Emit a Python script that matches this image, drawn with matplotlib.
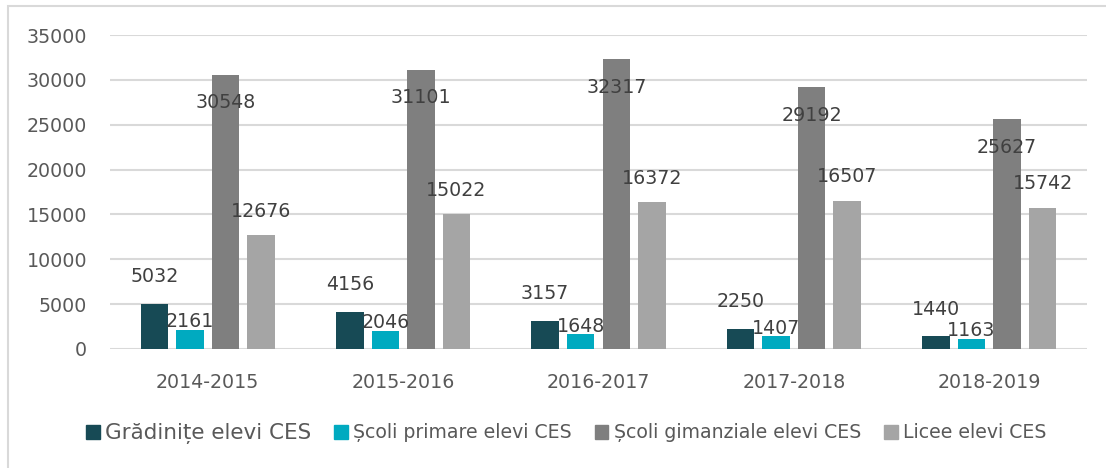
import matplotlib
matplotlib.use("Agg")
import matplotlib.pyplot as plt
from matplotlib.patches import Rectangle, Patch
import numpy as np

years = ["2014-2015", "2015-2016", "2016-2017", "2017-2018", "2018-2019"]
gradinite = [5032, 4156, 3157, 2250, 1440]
primare = [2161, 2046, 1648, 1407, 1163]
gimnaziale = [30548, 31101, 32317, 29192, 25627]
licee = [12676, 15022, 16372, 16507, 15742]

series_names = ["Grădinițe elevi CES", "Școli primare elevi CES",
                "Școli gimanziale elevi CES", "Licee elevi CES"]
colors = ["#174A55", "#00AAC0", "#7F7F7F", "#A5A5A5"]
# label offsets (pixels) relative to bar top, as in the original
label_dy = [27, 8, -28, 24]

W, H = 1106, 468
fig = plt.figure(figsize=(W / 100, H / 100), dpi=100)
ax = fig.add_axes([110 / W, (H - 349) / H, 977 / W, 314 / H])

x = np.arange(len(years))
width = 0.141
step = 0.182
offsets = [-1.5 * step, -0.5 * step, 0.5 * step, 1.5 * step]

for vals, off, col, dy, name in zip([gradinite, primare, gimnaziale, licee],
                                     offsets, colors, label_dy, series_names):
    bars = ax.bar(x + off, vals, width, color=col, label=name, zorder=3)
    for b, v in zip(bars, vals):
        ax.annotate(str(v), (b.get_x() + b.get_width() / 2, v),
                    xytext=(0, dy), textcoords="offset pixels",
                    ha="center", va="center", fontsize=13.7, color="#404040",
                    zorder=5)

ax.set_xlim(-0.5, len(years) - 0.5)
ax.set_ylim(0, 35000)
ax.set_yticks(range(0, 35001, 5000))
ax.set_xticks(x)
ax.set_xticklabels(years)
ax.grid(axis="y", color="#D9D9D9", linewidth=1.5, zorder=0)
ax.tick_params(axis="both", length=0, labelsize=13.7, labelcolor="#595959")
ax.tick_params(axis="y", pad=16.5)
ax.tick_params(axis="x", pad=17)
for s in ax.spines.values():
    s.set_visible(False)

handles = [Patch(color=c) for c in colors]
leg = fig.legend(handles, series_names, loc="center left",
                 bbox_to_anchor=(86 / W, 1 - 433 / H), ncol=4, frameon=False,
                 fontsize=13.6, handlelength=0.72, handleheight=0.72,
                 handletextpad=0.3, columnspacing=1.2, borderpad=0,
                 borderaxespad=0)
for t in leg.get_texts():
    t.set_color("#595959")
leg.get_texts()[0].set_fontsize(15.5)

# outer chart border
fig.patches.append(Rectangle((8 / W, -0.1), 1.2, 1.1 - 6 / H,
                             transform=fig.transFigure, fill=False,
                             edgecolor="#D9D9D9", linewidth=1.5))

fig.savefig("out.png", dpi=100)
